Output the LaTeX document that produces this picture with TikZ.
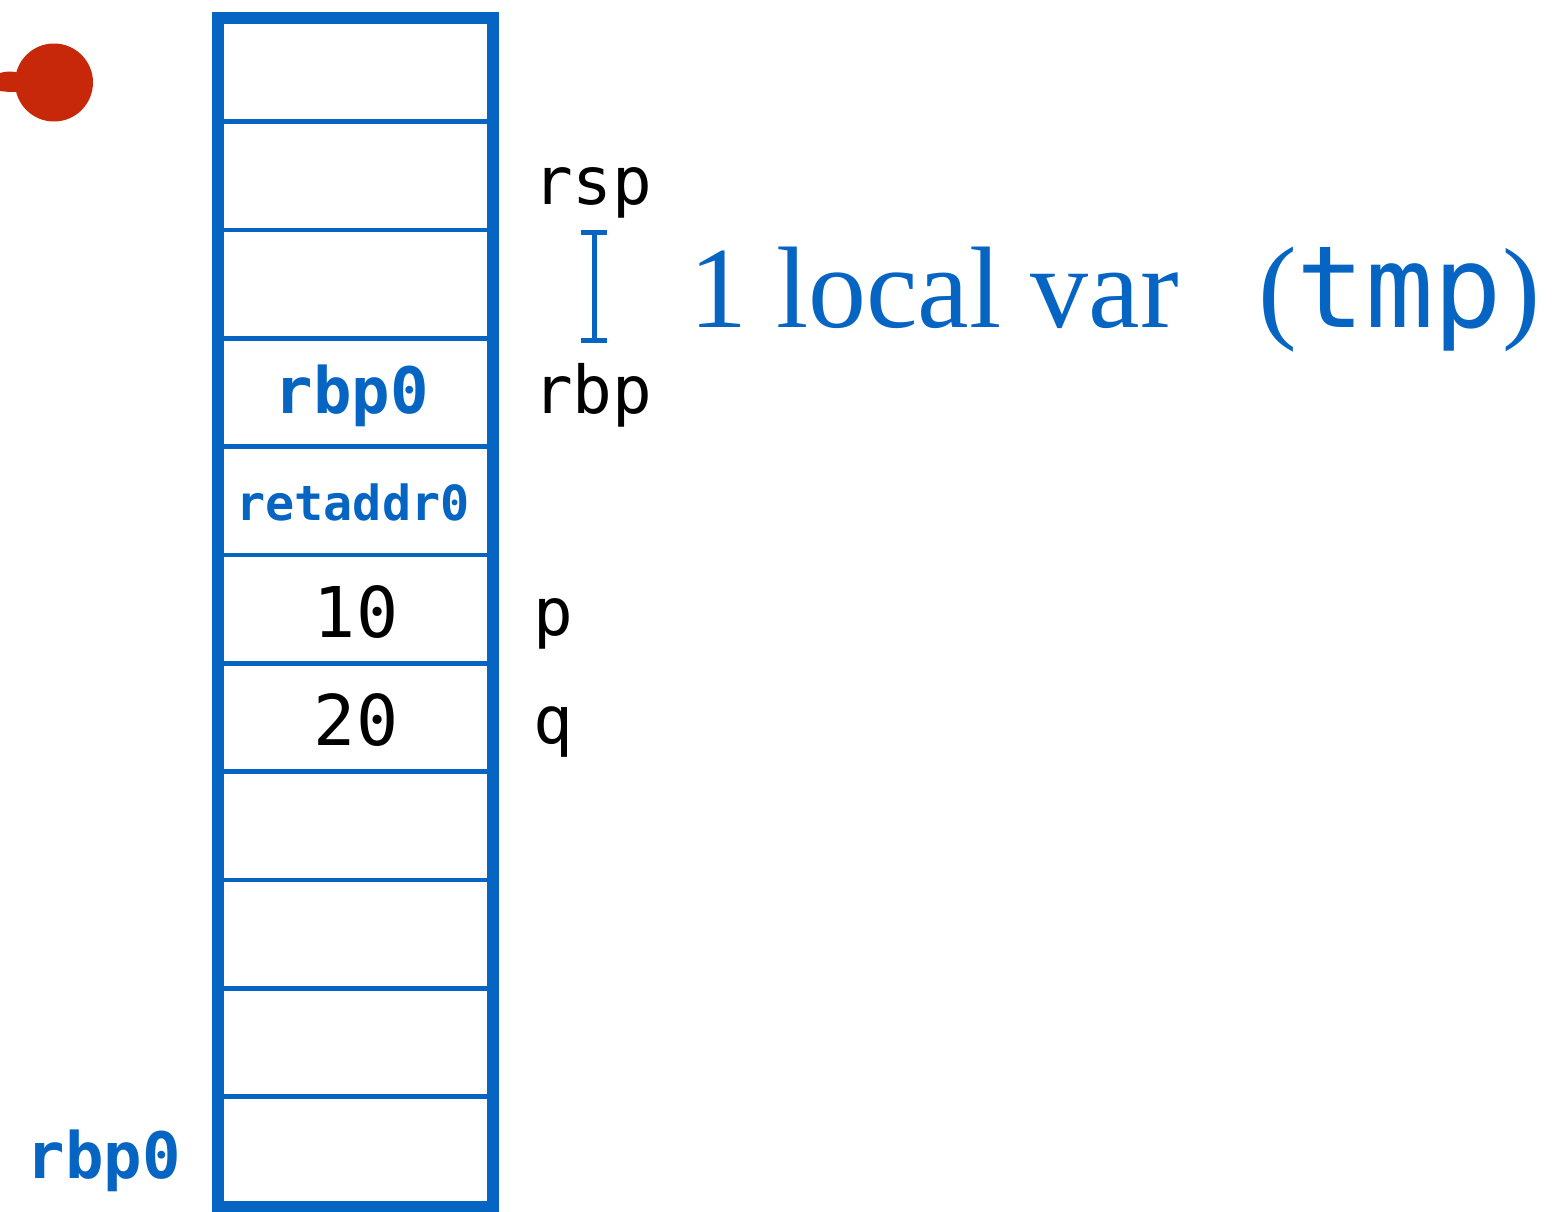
\documentclass[tikz,border=0pt]{standalone}
\usepackage{fontspec}
\setmonofont{DejaVu Sans Mono}
\newfontfamily\serifface{Liberation Serif}
\definecolor{stackblue}{RGB}{6,101,194}
\definecolor{pointerred}{RGB}{200,40,10}

\begin{document}
\begin{tikzpicture}[x=0.5pt,y=-0.5pt,
  every node/.style={inner sep=0pt, outer sep=0pt},
  frame/.style={draw=stackblue, line width=6.3pt},
  divider/.style={draw=stackblue, line width=2.4pt},
  celltext/.style={anchor=base, font=\ttfamily\fontsize{35}{40}\selectfont, text=black},
  cellkey/.style={anchor=base, font=\ttfamily\bfseries\fontsize{32}{38}\selectfont, text=stackblue},
  reglabel/.style={anchor=base west, font=\ttfamily\fontsize{33}{40}\selectfont, text=black},
  bracket/.style={draw=stackblue, line width=2.5pt},
  note/.style={anchor=base west, text=stackblue}]

  \useasboundingbox (0,0) rectangle (1562,1211);

  % stack frame outline
  \draw[frame] (218,18) rectangle (493,1207);

  % slot separators
  \foreach \k in {0,...,9} {
    \draw[divider] (224,{121.7+108.34*\k}) -- (487,{121.7+108.34*\k});
  }

  % slot contents
  \node[cellkey] (slot-rbp) at (352,413) {rbp0};
  \node[cellkey, font=\ttfamily\bfseries\fontsize{24.2}{30}\selectfont] (slot-ret) at (353,520) {retaddr0};
  \node[celltext] (slot-p) at (356,637) {10};
  \node[celltext] (slot-q) at (356,745) {20};

  % register and variable names
  \node[reglabel] (lbl-rsp) at (533,204) {rsp};
  \node[reglabel] (lbl-rbp) at (533,413) {rbp};
  \node[reglabel] (lbl-p) at (533,635) {p};
  \node[reglabel] (lbl-q) at (533,743) {q};

  % saved base pointer of the caller
  \node[cellkey] (caller-rbp) at (104,1178) {rbp0};

  % extent of the local variable area
  \coordinate (br-top) at (594,232);
  \coordinate (br-bot) at (594,340);
  \draw[bracket] (br-top) -- (br-bot);
  \draw[bracket] ([xshift=-6.5pt]br-top) -- ([xshift=6.5pt]br-top);
  \draw[bracket] ([xshift=-6.5pt]br-bot) -- ([xshift=6.5pt]br-bot);

  \node[note, font=\serifface\fontsize{58}{70}\selectfont] (locals) at (689,327) {1 local var};
  \node[note, font=\serifface\fontsize{58}{70}\selectfont] (locals-name) at (1258,327)
    {(\ttfamily\fontsize{57}{70}\selectfont tmp\serifface)};

  % pointer mark
  \fill[pointerred] (54,82.5) circle[radius=39];
  \fill[pointerred] (0,73) .. controls (10,70) and (20,72) .. (26,76)
    -- (26,90) .. controls (18,93) and (8,92) .. (0,91) -- cycle;
\end{tikzpicture}
\end{document}
